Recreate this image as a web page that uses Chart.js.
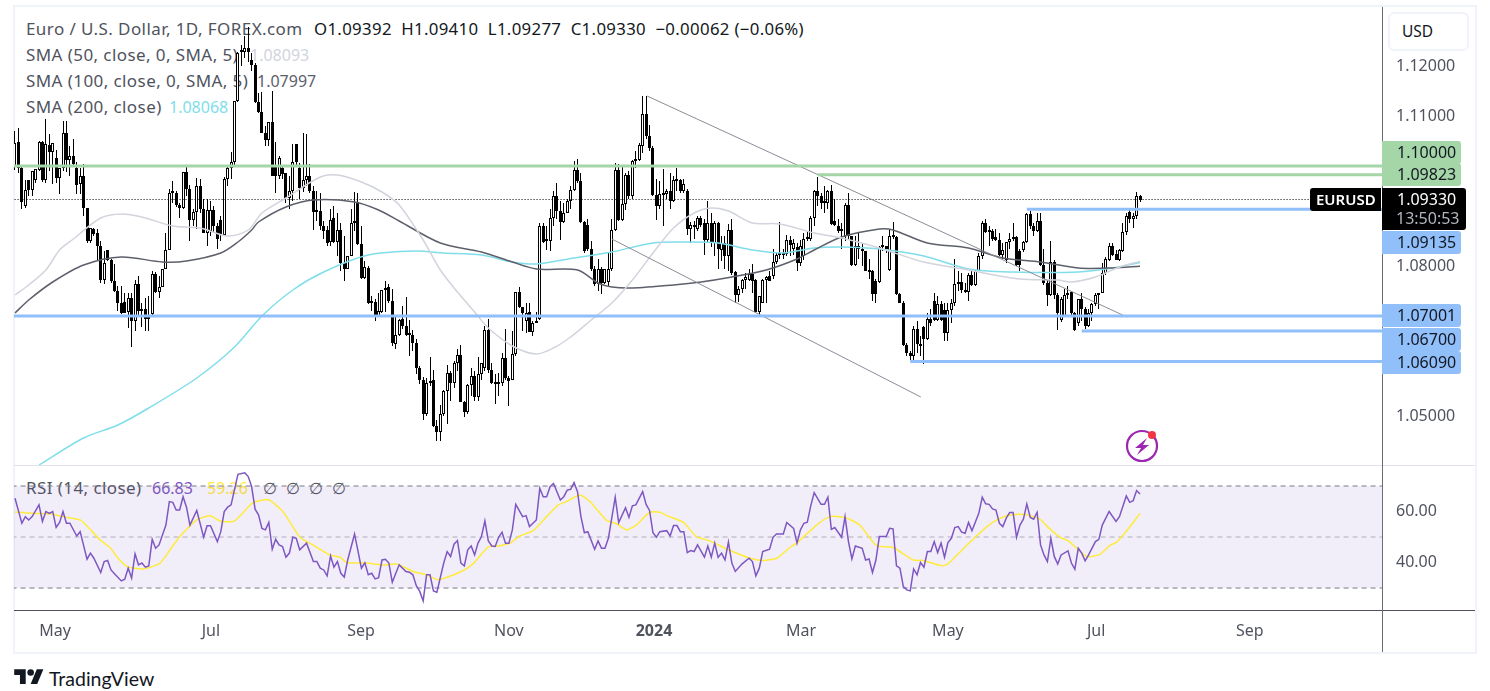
<!DOCTYPE html>
<html>
<head>
<meta charset="utf-8">
<title>EURUSD</title>
<script src="https://cdn.jsdelivr.net/npm/chart.js@4"></script>
<style>
  html, body { margin: 0; padding: 0; background: #fff; }
  body { width: 1490px; height: 691px; position: relative; overflow: hidden; font-family: "Noto Sans", sans-serif; color: #50535e; }
  .frame { position: absolute; left: 13px; top: 5px; width: 1460px; height: 645px; border: 2px solid #f0f3fa; }
  .rule { position: absolute; }
  .legend { position: absolute; left: 26px; font-size: 17px; letter-spacing: 0.42px; line-height: 20px; white-space: nowrap; }
  .legend b { font-weight: 400; font-size: 16px; letter-spacing: 0; position: absolute; top: 0; }
  .ohlc { color: #131722; position: absolute; left: 288px; top: 0; font-size: 16.8px; letter-spacing: 0.33px; }
  canvas { position: absolute; }
  #usd { position: absolute; left: 1388px; top: 12px; width: 77px; height: 35px; border: 2px solid #f0f3fa; border-radius: 6px; font-size: 15.5px; line-height: 35px; color: #131722; text-indent: 12px; background: #fff; }
  #brand { position: absolute; left: 49px; top: 665px; font-family: Lato, sans-serif; font-size: 19.5px; line-height: 28px; color: #131722; }
</style>
</head>
<body>
<div class="frame"></div>
<div class="rule" style="left:14px;top:465px;width:1461px;height:1px;background:#e0e3eb"></div>
<div class="rule" style="left:14px;top:610px;width:1461px;height:1px;background:#50535e"></div>
<div class="rule" style="left:1382px;top:7px;width:1px;height:645px;background:#6a6d78"></div>

<div class="legend" style="top:19px">Euro / U.S. Dollar, 1D, FOREX.com<span class="ohlc">O1.09392&nbsp; H1.09410&nbsp; L1.09277&nbsp; C1.09330&nbsp; −0.00062 (−0.06%)</span></div>
<div class="legend" style="top:45px">SMA (50, close, 0, SMA, 5)<b style="left:224px;color:#d1d4dc">1.08093</b></div>
<div class="legend" style="top:71px">SMA (100, close, 0, SMA, 5)<b style="left:231px;color:#5d606b">1.07997</b></div>
<div class="legend" style="top:97px">SMA (200, close)<b style="left:143px;color:#80deea">1.08068</b></div>
<div class="legend" style="top:478px">RSI (14, close)<b style="left:126px;color:#7e57c2">66.83</b><b style="left:181px;color:#ffeb3b">59.26</b><b style="left:237px">∅</b><b style="left:260px">∅</b><b style="left:283px">∅</b><b style="left:306px">∅</b></div>

<canvas id="price-chart" style="left:14px;top:7px"></canvas>
<canvas id="rsi-chart" style="left:14px;top:466px"></canvas>

<div id="usd">USD</div>

<svg style="position:absolute;left:1124px;top:428px" width="38" height="36" viewBox="0 0 38 36">
  <circle cx="18" cy="18" r="15" fill="none" stroke="#9c27b0" stroke-width="2.2"/>
  <path d="M23 10 L11 20 L17 20 L13 27 L25 17 L19 17 Z" fill="#9c27b0"/>
  <circle cx="28" cy="7" r="4" fill="#f23645"/>
</svg>

<svg style="position:absolute;left:14px;top:666px" width="30" height="23" viewBox="0 0 36 28">
  <path d="M14 22H7V11H0V4h14v18zM28 22h-8l7.5-18h8L28 22z" fill="#131722"/>
  <circle cx="20" cy="8" r="4" fill="#131722"/>
</svg>
<div id="brand">TradingView</div>

<script>
// Candles, one per trading day
const opens = [1.1000,1.1047,1.0997,1.0920,1.0973,1.0953,1.0973,1.0993,1.1047,1.0971,
1.1042,1.1028,1.1017,1.0977,1.0997,1.1065,1.1013,1.1019,1.0997,1.0963,
1.0980,1.0917,1.0850,1.0875,1.0865,1.0840,1.0773,1.0832,1.0813,1.0770,
1.0751,1.0726,1.0728,1.0708,1.0736,1.0690,1.0764,1.0710,1.0715,1.0698,
1.0704,1.0784,1.0748,1.0758,1.0794,1.0832,1.0945,1.0945,1.0922,1.0917,
1.0987,1.0955,1.0893,1.0907,1.0960,1.0915,1.0866,1.0870,1.0913,1.0880,
1.0893,1.0862,1.0975,1.0997,1.1007,1.1130,1.1227,1.1227,1.1237,1.1211,
1.1201,1.1128,1.1108,1.1065,1.1053,1.1087,1.1000,1.0979,1.0997,1.0985,
1.0937,1.0950,1.1043,1.0997,1.0957,1.0973,1.0980,1.0949,1.0907,1.0910,
1.0880,1.0873,1.0847,1.0897,1.0847,1.0873,1.0806,1.0795,1.0820,1.0885,
1.0927,1.0843,1.0776,1.0796,1.0725,1.0728,1.0700,1.0708,1.0752,1.0757,
1.0730,1.0643,1.0662,1.0695,1.0680,1.0662,1.0662,1.0647,1.0595,1.0572,
1.0504,1.0567,1.0572,1.0479,1.0469,1.0505,1.0551,1.0587,1.0567,1.0607,
1.0621,1.0529,1.0509,1.0562,1.0580,1.0537,1.0583,1.0595,1.0672,1.0592,
1.0567,1.0563,1.0567,1.0615,1.0575,1.0572,1.0623,1.0747,1.0717,1.0690,
1.0708,1.0669,1.0687,1.0695,1.0879,1.0850,1.0850,1.0897,1.0939,1.0910,
1.0887,1.0905,1.0929,1.0953,1.0992,1.0969,1.0887,1.0881,1.0835,1.0795,
1.0763,1.0794,1.0765,1.0767,1.0795,1.0873,1.0992,1.0893,1.0923,1.0982,
1.0939,1.1010,1.1012,1.1039,1.1104,1.1059,1.1037,1.0941,1.0920,1.0943,
1.0943,1.0949,1.0931,1.0972,1.0972,1.0949,1.0950,1.0875,1.0881,1.0875,
1.0897,1.0885,1.0852,1.0885,1.0845,1.0885,1.0832,1.0845,1.0819,1.0872,
1.0787,1.0742,1.0755,1.0772,1.0772,1.0783,1.0772,1.0709,1.0727,1.0773,
1.0779,1.0779,1.0807,1.0821,1.0824,1.0824,1.0852,1.0835,1.0837,1.0805,
1.0819,1.0855,1.0855,1.0897,1.0949,1.0939,1.0925,1.0925,1.0949,1.0891,
1.0880,1.0870,1.0859,1.0922,1.0859,1.0801,1.0839,1.0835,1.0829,1.0791,
1.0791,1.0770,1.0769,1.0837,1.0840,1.0792,1.0860,1.0857,1.0744,1.0727,
1.0642,1.0625,1.0619,1.0674,1.0643,1.0678,1.0655,1.0695,1.0730,1.0692,
1.0723,1.0712,1.0665,1.0712,1.0725,1.0763,1.0769,1.0752,1.0749,1.0782,
1.0762,1.0791,1.0819,1.0885,1.0867,1.0869,1.0857,1.0853,1.0822,1.0813,
1.0847,1.0855,1.0857,1.0829,1.0832,1.0847,1.0904,1.0879,1.0869,1.0889,
1.0802,1.0765,1.0741,1.0809,1.0741,1.0692,1.0700,1.0741,1.0747,1.0705,
1.0685,1.0734,1.0715,1.0680,1.0705,1.0723,1.0742,1.0745,1.0785,1.0812,
1.0840,1.0824,1.0813,1.0830,1.0867,1.0907,1.0894,1.0899,1.09392];
const highs = [1.1070,1.1077,1.1000,1.0973,1.0973,1.0990,1.0995,1.1050,1.1050,1.1093,
1.1063,1.1045,1.1033,1.0997,1.1090,1.1090,1.1040,1.1055,1.1007,1.0997,
1.1003,1.0917,1.0877,1.0877,1.0875,1.0850,1.0830,1.0833,1.0815,1.0803,
1.0760,1.0760,1.0745,1.0746,1.0746,1.0772,1.0780,1.0725,1.0736,1.0740,
1.0790,1.0788,1.0780,1.0795,1.0865,1.0955,1.0970,1.0950,1.0925,1.0987,
1.1000,1.0962,1.0915,1.0977,1.0975,1.0935,1.0935,1.0930,1.0920,1.0885,
1.0900,1.0978,1.1000,1.1027,1.1130,1.1228,1.1242,1.1260,1.1277,1.1225,
1.1205,1.1145,1.1147,1.1080,1.1087,1.1150,1.1047,1.1020,1.1000,1.0985,
1.0980,1.1043,1.1043,1.1005,1.1065,1.1063,1.1003,1.0960,1.0950,1.0945,
1.0890,1.0880,1.0915,1.0920,1.0905,1.0885,1.0860,1.0820,1.0915,1.0947,
1.0945,1.0880,1.0810,1.0800,1.0740,1.0735,1.0745,1.0752,1.0770,1.0763,
1.0755,1.0700,1.0695,1.0720,1.0738,1.0692,1.0673,1.0655,1.0600,1.0578,
1.0575,1.0617,1.0592,1.0493,1.0522,1.0552,1.0602,1.0590,1.0610,1.0635,
1.0642,1.0530,1.0565,1.0595,1.0590,1.0618,1.0606,1.0680,1.0695,1.0607,
1.0585,1.0587,1.0627,1.0675,1.0580,1.0670,1.0748,1.0757,1.0717,1.0725,
1.0725,1.0690,1.0707,1.0885,1.0885,1.0880,1.0915,1.0950,1.0965,1.0930,
1.0925,1.0935,1.0960,1.1010,1.1015,1.0985,1.0890,1.0895,1.0850,1.0800,
1.0815,1.0798,1.0795,1.0825,1.0895,1.1005,1.1003,1.0999,1.0985,1.0990,
1.1012,1.1030,1.1045,1.1140,1.1140,1.1082,1.1040,1.0975,1.0970,1.0995,
1.0955,1.0985,1.0980,1.0997,1.0975,1.0975,1.0955,1.0888,1.0890,1.0900,
1.0900,1.0895,1.0931,1.0905,1.0890,1.0888,1.0860,1.0860,1.0883,1.0895,
1.0790,1.0760,1.0775,1.0785,1.0795,1.0803,1.0775,1.0740,1.0775,1.0780,
1.0790,1.0835,1.0825,1.0888,1.0835,1.0862,1.0860,1.0855,1.0845,1.0853,
1.0865,1.0870,1.0900,1.0952,1.0978,1.0945,1.0960,1.0952,1.0962,1.0935,
1.0895,1.0885,1.0925,1.0945,1.0860,1.0860,1.0865,1.0845,1.0830,1.0815,
1.0792,1.0775,1.0840,1.0860,1.0840,1.0875,1.0887,1.0860,1.0745,1.0730,
1.0645,1.0630,1.0680,1.0690,1.0660,1.0680,1.0705,1.0715,1.0745,1.0740,
1.0730,1.0725,1.0725,1.0735,1.0815,1.0790,1.0785,1.0765,1.0785,1.0790,
1.0792,1.0825,1.0890,1.0895,1.0880,1.0875,1.0875,1.0865,1.0845,1.0848,
1.0865,1.0885,1.0860,1.0835,1.0850,1.0905,1.0910,1.0885,1.0905,1.0905,
1.0835,1.0770,1.0850,1.0812,1.0745,1.0737,1.0755,1.0760,1.0750,1.0708,
1.0735,1.0745,1.0718,1.0715,1.0725,1.0745,1.0746,1.0805,1.0818,1.0845,
1.0845,1.0832,1.0835,1.0885,1.0905,1.0915,1.0905,1.0947,1.09410];
const lows = [1.0993,1.0985,1.0915,1.0917,1.0940,1.0940,1.0965,1.0990,1.0967,1.0965,
1.0990,1.0963,1.0965,1.0943,1.0990,1.0988,1.0980,1.1000,1.0943,1.0943,
1.0900,1.0845,1.0845,1.0860,1.0810,1.0766,1.0763,1.0810,1.0765,1.0747,
1.0710,1.0703,1.0706,1.0676,1.0638,1.0671,1.0700,1.0678,1.0670,1.0671,
1.0700,1.0745,1.0736,1.0758,1.0795,1.0832,1.0925,1.0918,1.0897,1.0915,
1.0940,1.0850,1.0880,1.0875,1.0905,1.0868,1.0840,1.0860,1.0865,1.0835,
1.0850,1.0860,1.0960,1.0975,1.1000,1.1128,1.1200,1.1215,1.1207,1.1190,
1.1125,1.1105,1.1065,1.1040,1.1040,1.0980,1.0945,1.0975,1.0975,1.0925,
1.0915,1.0930,1.1000,1.0935,1.0947,1.0960,1.0945,1.0873,1.0890,1.0873,
1.0855,1.0840,1.0840,1.0846,1.0820,1.0790,1.0770,1.0795,1.0820,1.0870,
1.0842,1.0775,1.0775,1.0723,1.0710,1.0690,1.0700,1.0705,1.0708,1.0725,
1.0640,1.0635,1.0660,1.0675,1.0660,1.0620,1.0630,1.0585,1.0565,1.0492,
1.0500,1.0560,1.0478,1.0451,1.0450,1.0500,1.0485,1.0530,1.0556,1.0590,
1.0529,1.0498,1.0505,1.0540,1.0530,1.0530,1.0572,1.0590,1.0587,1.0565,
1.0525,1.0540,1.0560,1.0572,1.0520,1.0572,1.0620,1.0716,1.0670,1.0665,
1.0668,1.0660,1.0687,1.0693,1.0845,1.0832,1.0830,1.0880,1.0895,1.0853,
1.0885,1.0905,1.0915,1.0950,1.0965,1.0885,1.0825,1.0830,1.0790,1.0760,
1.0750,1.0743,1.0763,1.0760,1.0790,1.0870,1.0890,1.0890,1.0912,1.0935,
1.0935,1.0997,1.1010,1.1025,1.1055,1.1030,1.0940,1.0892,1.0915,1.0880,
1.0935,1.0915,1.0928,1.0950,1.0945,1.0945,1.0862,1.0845,1.0855,1.0870,
1.0878,1.0822,1.0845,1.0838,1.0820,1.0795,1.0810,1.0795,1.0790,1.0782,
1.0725,1.0728,1.0745,1.0755,1.0770,1.0745,1.0705,1.0700,1.0727,1.0725,
1.0770,1.0775,1.0803,1.0815,1.0815,1.0820,1.0820,1.0822,1.0790,1.0800,
1.0812,1.0850,1.0850,1.0880,1.0920,1.0915,1.0905,1.0915,1.0882,1.0880,
1.0865,1.0835,1.0850,1.0855,1.0800,1.0800,1.0815,1.0800,1.0790,1.0775,
1.0730,1.0726,1.0765,1.0830,1.0825,1.0790,1.0855,1.0742,1.0725,1.0640,
1.0620,1.0612,1.0605,1.0625,1.0620,1.0603,1.0652,1.0680,1.0690,1.0690,
1.0690,1.0650,1.0650,1.0685,1.0720,1.0750,1.0745,1.0745,1.0730,1.0760,
1.0760,1.0790,1.0815,1.0865,1.0840,1.0850,1.0850,1.0820,1.0815,1.0805,
1.0835,1.0850,1.0800,1.0790,1.0828,1.0845,1.0875,1.0860,1.0868,1.0800,
1.0762,1.0720,1.0740,1.0735,1.0672,1.0688,1.0700,1.0735,1.0700,1.0670,
1.0680,1.0690,1.0675,1.0678,1.0690,1.0720,1.0715,1.0745,1.0782,1.0810,
1.0820,1.0812,1.0810,1.0828,1.0862,1.0885,1.0877,1.0895,1.09277];
const closes = [1.1045,1.0997,1.0927,1.0953,1.0953,1.0990,1.0995,1.1047,1.0971,1.1043,
1.1028,1.1045,1.0977,1.0997,1.1065,1.1013,1.1019,1.1003,1.0962,1.0980,
1.0917,1.0850,1.0877,1.0863,1.0840,1.0773,1.0806,1.0813,1.0770,1.0750,
1.0726,1.0706,1.0706,1.0736,1.0690,1.0764,1.0710,1.0715,1.0694,1.0694,
1.0784,1.0748,1.0758,1.0794,1.0832,1.0945,1.0945,1.0922,1.0917,1.0987,
1.0955,1.0893,1.0907,1.0960,1.0915,1.0866,1.0913,1.0913,1.0880,1.0855,
1.0862,1.0975,1.0997,1.1007,1.1130,1.1226,1.1227,1.1237,1.1228,1.1201,
1.1128,1.1108,1.1065,1.1053,1.1087,1.0980,1.0979,1.1017,1.0983,1.0937,
1.0950,1.1007,1.1007,1.0957,1.0973,1.0980,1.0949,1.0907,1.0910,1.0880,
1.0870,1.0845,1.0893,1.0847,1.0873,1.0806,1.0795,1.0820,1.0885,1.0890,
1.0844,1.0776,1.0797,1.0725,1.0728,1.0699,1.0710,1.0752,1.0756,1.0730,
1.0645,1.0661,1.0693,1.0679,1.0662,1.0664,1.0647,1.0595,1.0572,1.0504,
1.0567,1.0570,1.0479,1.0469,1.0505,1.0551,1.0587,1.0567,1.0607,1.0621,
1.0529,1.0509,1.0562,1.0580,1.0537,1.0583,1.0605,1.0672,1.0592,1.0567,
1.0563,1.0567,1.0615,1.0575,1.0571,1.0623,1.0747,1.0717,1.0705,1.0705,
1.0669,1.0687,1.0690,1.0879,1.0847,1.0852,1.0897,1.0939,1.0910,1.0887,
1.0905,1.0929,1.0952,1.0992,1.0969,1.0887,1.0829,1.0835,1.0795,1.0763,
1.0795,1.0765,1.0795,1.0795,1.0873,1.0992,1.0892,1.0923,1.0982,1.0939,
1.1010,1.1012,1.1042,1.1104,1.1059,1.1037,1.0941,1.0920,1.0943,1.0941,
1.0949,1.0931,1.0972,1.0970,1.0949,1.0963,1.0875,1.0881,1.0878,1.0897,
1.0881,1.0852,1.0885,1.0845,1.0885,1.0835,1.0845,1.0819,1.0872,1.0785,
1.0742,1.0755,1.0772,1.0777,1.0783,1.0770,1.0709,1.0739,1.0773,1.0777,
1.0771,1.0807,1.0821,1.0824,1.0822,1.0852,1.0842,1.0845,1.0805,1.0839,
1.0855,1.0857,1.0897,1.0949,1.0939,1.0925,1.0930,1.0949,1.0884,1.0882,
1.0870,1.0875,1.0922,1.0859,1.0801,1.0839,1.0835,1.0830,1.0791,1.0789,
1.0744,1.0744,1.0837,1.0839,1.0835,1.0860,1.0858,1.0744,1.0727,1.0642,
1.0625,1.0619,1.0674,1.0643,1.0640,1.0655,1.0695,1.0685,1.0692,1.0723,
1.0693,1.0665,1.0712,1.0725,1.0763,1.0769,1.0752,1.0748,1.0782,1.0762,
1.0791,1.0819,1.0885,1.0867,1.0870,1.0855,1.0853,1.0822,1.0832,1.0847,
1.0855,1.0857,1.0802,1.0802,1.0847,1.0904,1.0879,1.0869,1.0889,1.0802,
1.0765,1.0741,1.0809,1.0741,1.0705,1.0735,1.0741,1.0745,1.0705,1.0672,
1.0734,1.0715,1.0680,1.0705,1.0723,1.0742,1.0745,1.0785,1.0815,1.0840,
1.0822,1.0813,1.0832,1.0867,1.0900,1.0894,1.0899,1.0939,1.09330];

// Moving averages, read at the bends of each line
const sma50Days = [0,4,9,13,17,25,31,37,46,54,62,68,72,79,89,94,101,107,112,119,124,129,134,138,145,152,157,162,168,174,180,186,192,198,203,208,215,223,233,241,252,265,278,293,304,308,315,322,328];
const sma50 = [1.0742,1.0762,1.0792,1.0832,1.0854,1.0896,1.0904,1.0898,1.0880,1.0876,1.0860,1.0872,1.0906,1.0936,1.0978,1.0982,1.0968,1.0948,1.0922,1.0852,1.0792,1.0748,1.0708,1.0676,1.0640,1.0624,1.0636,1.0658,1.0692,1.0726,1.0772,1.0826,1.0876,1.0906,1.0916,1.0910,1.0886,1.0884,1.0866,1.0856,1.0836,1.0808,1.0792,1.0774,1.0772,1.0768,1.0778,1.0798,1.08093];
const sma100Days = [0,4,11,20,31,43,50,60,65,69,71,79,87,99,106,112,124,136,145,152,164,170,174,180,192,200,209,219,228,233,241,252,256,266,278,288,299,310,320,328];
const sma100 = [1.0706,1.0732,1.0768,1.0802,1.0818,1.0808,1.0810,1.0826,1.0848,1.0872,1.0888,1.0918,1.0932,1.0928,1.0912,1.0890,1.0846,1.0828,1.0808,1.0794,1.0792,1.0766,1.0758,1.0756,1.0762,1.0768,1.0778,1.0792,1.0814,1.0832,1.0858,1.0874,1.0872,1.0846,1.0836,1.0816,1.0808,1.0796,1.0796,1.07997];
const sma200Days = [7,20,30,39,53,64,72,81,90,103,117,125,136,145,152,163,174,186,195,205,215,224,233,241,252,265,278,291,310,320,328];
const sma200 = [1.0402,1.0456,1.0482,1.0516,1.0576,1.0638,1.0700,1.0752,1.0788,1.0822,1.0830,1.0826,1.0822,1.0808,1.0804,1.0816,1.0828,1.0846,1.0848,1.0846,1.0832,1.0826,1.0836,1.0838,1.0834,1.0820,1.0794,1.0788,1.0788,1.0796,1.08068];

// Horizontal levels and trend lines
const levelPrices = [1.10000,1.09823,1.09135,1.07001,1.06700,1.06090];
const levelFrom = [-1,234,295,-1,311,261];
const levelColors = ['#a5d6a7','#a5d6a7','#90bff9','#90bff9','#90bff9','#90bff9'];
const trendDays = [[184.3,324.2],[174,264.1]];
const trendPrices = [[1.1140,1.0698],[1.0854,1.0538]];
const lastPrice = 1.09330;

// RSI and its average
const rsiDays = [0,2,3,4,5,7,8,9,10,11,12,13,14,15,16,18,19,21,22,23,25,26,27,28,29,31,32,33,34,35,36,37,38,39,40,41,42,44,45,46,47,48,49,50,51,53,55,56,57,59,60,61,62,63,65,67,68,69,70,71,72,73,74,75,76,77,78,79,80,81,82,83,85,87,88,89,90,91,92,93,94,95,96,97,99,101,102,103,104,105,106,107,108,109,110,112,114,115,116,117,118,119,120,121,122,123,125,126,127,128,129,130,131,132,133,134,135,136,137,138,139,140,141,
142,143,144,145,146,148,149,150,152,153,154,155,156,157,159,160,161,162,163,164,165,166,167,169,170,171,172,173,175,176,178,179,180,181,183,184,185,186,187,188,190,191,192,193,194,195,196,197,198,199,201,202,203,204,205,206,207,208,209,210,212,214,215,216,217,218,220,221,222,224,225,227,228,229,230,231,232,233,235,236,237,238,239,241,242,243,244,245,247,248,249,250,251,252,254,255,256,257,258,259,260,261,262,263,264,265,266,267,268,269,270,271,272,273,274,275,276,277,278,279,281,282,283,284,
285,286,287,288,289,290,291,292,293,294,295,296,297,298,299,300,301,302,303,304,305,307,308,309,310,311,312,313,315,316,317,319,321,322,324,325,326,327,328];
const rsiValues = [65.2,55.4,58,56.7,58,62.6,56.1,60,59.3,60,53.8,55.7,60,55.4,55.4,50.4,52.1,41.3,43.7,41.7,36.1,40.4,40.8,37.1,35.6,32.8,33.5,37.8,33.9,43.4,39.1,39.8,38.2,38.7,49.1,45.6,46.9,54.7,63.9,63.6,60.6,60.6,65.8,61.7,54.7,60.4,49.9,54.4,54.4,48.2,52.1,60,61.7,62.6,74.6,75.2,73.7,69.7,60.9,58.7,53.4,52.8,55.7,45.2,49.1,46.9,46.3,42.1,43.7,49.9,49.5,45,47.6,40.4,40.4,37.8,37.1,34.8,42.6,38.2,40.4,35.8,34.3,41,51.2,37.8,39.9,35.2,35.8,33.6,34.1,41,41.3,39.8,32.3,39.1,36.5,36.2,35.2,30.9,28.7,25,35.2,35.2,28.9,28.4,39.8,44.3,42.4,47.2,48.6,39.8,38.7,45,46.5,43,47.6,50.2,56.3,48.5,46.5,46.3,49.9,
51.9,47.6,47.6,52.8,62.8,58,58.4,54.1,56.7,69.1,65.8,65.8,69.7,71,64.5,65.8,68.4,68.7,71.3,67.8,58,51.7,52.1,45.2,48.5,45.6,45.6,49.5,65.6,55.7,61.5,57.7,62.2,62.6,67.8,62.8,60.4,51.7,49.9,52.1,52.5,50.4,54.5,54.5,52.1,52.1,43.9,44.7,44.3,46.9,42.1,46.5,42.1,47.6,42,43.7,41,48,39.8,36.5,39.5,41.7,40.4,34.8,37.8,44.3,45.2,49.9,51.2,51.2,55.7,53.4,47.6,52.8,55.4,55.8,62.2,67.4,62.8,62.8,65.6,53,53.7,49.9,58,48.2,41.4,46.5,45.6,41,41.4,36.1,41,50.2,50.2,53.4,53.2,38.7,37.8,30.6,29.3,28.9,37.5,35.2,40,38.2,44.3,44.3,48.2,43.9,47.6,42.1,47.8,49.5,53.7,54.1,51.9,51.5,55.7,52.5,59.3,65.6,63,62.8,
61,60.6,55.4,54.1,57.4,59.6,59.6,49.9,54.7,57,63,57.7,57,59.7,46.9,43,40.4,49.5,42.4,39.4,43,44.6,39.8,37.4,45.6,43.7,40.7,43,48.2,49.1,54.7,60,56.1,58,66.1,63.6,64.2,68.2,66.83];
const rsiMaDays = [0,2.4,5.3,10.2,14,19,21.4,24.8,27.7,29.6,32.6,37.4,42.3,45.2,48.1,53,56.9,59.8,63.7,66.6,69.2,73.9,78.2,83.1,88,91.8,94.8,96.7,102.5,107.4,111.3,116.1,120,123.4,129.7,133.6,138,141.4,144.3,147.2,151.1,155,158.4,160.8,164.7,167.6,172.5,175.4,178.3,181.2,185.1,188,190,194.8,198.7,202.6,208.5,214.3,218.2,222.1,226,227.9,233.7,237.6,242,246.3,251.2,256,261.9,264.8,270.2,272.1,277.5,283.3,286.7,290.6,295,298.8,301.3,304.7,307.1,312.4,316.3,319.2,321.2,325,328];
const rsiMa = [59.7,59.6,59.3,59.1,58,56.7,53.7,48.9,45.9,42.4,38.5,37.5,39.8,45,50.2,56.7,58.3,56.3,56.1,59.7,63.3,64.6,59.8,49.9,46,43,42.1,40,39.8,39,39.4,36.5,35.2,33.3,36.2,39.6,46.1,46.6,47.6,50.4,52.5,58,62.6,63.9,66.5,63.9,56.5,55.2,52.8,54.8,59.7,59.7,58.4,55.8,50.2,48.5,44.7,41.7,40.8,41.7,46,47.6,54.7,58,57.7,54.7,46.6,45.9,41,40.8,38.7,39.6,46.8,54,57,58.7,58.7,57,53.7,49.9,48.5,42.4,43.2,46.7,48,53.9,59.26];
const rsiBands = [70,50,30];

// Axes
const priceTicks = [1.12,1.11,1.08,1.05];
const rsiTicks = [60,40];
const timeTicks = [11.7,57.1,100.9,144,186.3,229.2,272,315.2,360];
const timeLabels = ['May','Jul','Sep','Nov','2024','Mar','May','Jul','Sep'];

// Price tags in the right axis; tops are page layout, not data
const tagTops = [134,156,224,297,321,344];

const X_MIN = -0.29, X_MAX = 398.55;
const AXIS_FONT = { family: '"Noto Sans", sans-serif', size: 16 };
const pts = (xs, ys) => xs.map((x, i) => ({ x, y: ys[i] }));
const lineSet = (data, color, width, extra) => Object.assign({
  type: 'line', data, borderColor: color, borderWidth: width, pointRadius: 0, fill: false, tension: 0
}, extra);

// The axes must not reserve room for half a tick label, the panels fill the canvas
const noScalePadding = s => {
  s.paddingTop = 0;
  s.paddingBottom = 0;
  s.paddingLeft = 0;
  s.paddingRight = 0;
};

// Snap candle bars to whole pixels so they stay crisp
const snapBars = {
  id: 'snapBars',
  beforeDatasetsDraw(chart) {
    chart.getSortedVisibleDatasetMetas().forEach(meta => {
      if (meta.type !== 'bar') return;
      meta.data.forEach(el => {
        el.x = Math.floor(el.x) + 0.5;
        el.y = Math.round(el.y);
        el.base = Math.round(el.base);
      });
    });
  }
};

function roundRect(ctx, x, y, w, h, r) {
  ctx.beginPath();
  ctx.roundRect(x, y, w, h, r);
  ctx.fill();
}

const priceTags = {
  id: 'priceTags',
  afterDraw(chart) {
    const { ctx } = chart;
    const left = chart.scales.y.left;
    ctx.save();
    ctx.font = '16px "Noto Sans", sans-serif';
    ctx.textBaseline = 'middle';
    levelPrices.forEach((p, i) => {
      const y = tagTops[i];
      ctx.fillStyle = levelColors[i];
      roundRect(ctx, left, y, 79, 23, [0, 3, 3, 0]);
      ctx.fillStyle = '#131722';
      ctx.fillText(p.toFixed(5), left + 15, y + 12);
    });

    // last price box and symbol tag
    const yLast = chart.scales.y.getPixelForValue(lastPrice);
    ctx.fillStyle = '#000';
    roundRect(ctx, left, yLast - 11.5, 84, 42, [0, 3, 3, 0]);
    roundRect(ctx, left - 72, yLast - 11.5, 71, 23, [3, 0, 0, 3]);
    ctx.fillStyle = '#fff';
    ctx.fillText(lastPrice.toFixed(5), left + 15, yLast + 1);
    ctx.fillStyle = '#b2b5be';
    ctx.fillText('13:50:53', left + 14, yLast + 20);
    ctx.fillStyle = '#fff';
    ctx.font = '600 15px "Noto Sans", sans-serif';
    ctx.fillText('EURUSD', left - 66, yLast + 1);
    ctx.restore();
  }
};

const wicks = highs.map((h, i) => ({ x: i, y: [lows[i], h] }));
const bodies = opens.map((o, i) => ({ x: i, y: [o, closes[i]] }));

const levelSets = levelPrices.map((p, i) =>
  lineSet(pts([levelFrom[i], X_MAX + 1], [p, p]), levelColors[i], 3, { order: 1 }));
const trendSets = trendDays.map((days, i) =>
  lineSet(pts(days, trendPrices[i]), '#8a8d96', 1, { order: 2 }));

const priceCanvas = document.getElementById('price-chart');
priceCanvas.style.width = '1461px';
priceCanvas.style.height = '458px';
priceCanvas.width = 1461;
priceCanvas.height = 458;

new Chart(priceCanvas, {
  type: 'bar',
  data: {
    datasets: [
      { data: wicks, backgroundColor: '#000', borderWidth: 0, barThickness: 1, grouped: false, inflateAmount: 0, order: 6 },
      {
        data: bodies,
        backgroundColor: ctx => (closes[ctx.dataIndex] >= opens[ctx.dataIndex] ? '#fff' : '#000'),
        borderColor: '#000', borderWidth: 1, borderSkipped: false, barThickness: 3, minBarLength: 2,
        grouped: false, inflateAmount: 0, order: 5
      },
      lineSet(pts([-1, X_MAX + 1], [lastPrice, lastPrice]), '#000', 1, { borderDash: [1, 2], order: 4 }),
      lineSet(pts(sma50Days, sma50), '#d1d4dc', 1.5, { tension: 0.3, order: 3 }),
      lineSet(pts(sma100Days, sma100), '#5d606b', 1.5, { tension: 0.3, order: 3 }),
      lineSet(pts(sma200Days, sma200), '#80deea', 1.5, { tension: 0.3, order: 3 }),
      ...trendSets,
      ...levelSets
    ]
  },
  options: {
    responsive: false,
    animation: false,
    devicePixelRatio: 1,
    layout: { padding: 0 },
    plugins: { legend: { display: false }, tooltip: { enabled: false } },
    scales: {
      x: { type: 'linear', min: X_MIN, max: X_MAX, offset: false, display: false, grid: { display: false } },
      y: {
        position: 'right', min: 1.0402, max: 1.1318,
        grid: { display: false, drawTicks: false }, border: { display: false },
        afterFit: s => { s.width = 93; noScalePadding(s); },
        afterBuildTicks: s => { s.ticks = priceTicks.map(value => ({ value })); },
        ticks: { color: '#50535e', font: AXIS_FONT, padding: 14, callback: v => v.toFixed(5) }
      }
    }
  },
  plugins: [snapBars, priceTags]
});

const rsiCanvas = document.getElementById('rsi-chart');
rsiCanvas.style.width = '1461px';
rsiCanvas.style.height = '186px';
rsiCanvas.width = 1461;
rsiCanvas.height = 186;

new Chart(rsiCanvas, {
  type: 'line',
  data: {
    datasets: [
      lineSet(pts([-1, X_MAX + 1], [rsiBands[0], rsiBands[0]]), '#787b86', 1, { borderDash: [5, 4], fill: '+2', backgroundColor: 'rgba(126,87,194,0.1)', order: 4 }),
      lineSet(pts([-1, X_MAX + 1], [rsiBands[1], rsiBands[1]]), 'rgba(120,123,134,0.55)', 1, { borderDash: [5, 4], order: 4 }),
      lineSet(pts([-1, X_MAX + 1], [rsiBands[2], rsiBands[2]]), '#787b86', 1, { borderDash: [5, 4], order: 4 }),
      lineSet(pts(rsiMaDays, rsiMa), '#ffeb3b', 1.5, { tension: 0.2, order: 3 }),
      lineSet(pts(rsiDays, rsiValues), '#7e57c2', 1.5, { order: 2 })
    ]
  },
  options: {
    responsive: false,
    animation: false,
    devicePixelRatio: 1,
    layout: { padding: 0 },
    plugins: { legend: { display: false }, tooltip: { enabled: false } },
    scales: {
      x: {
        type: 'linear', min: X_MIN, max: X_MAX,
        grid: { display: false, drawTicks: false }, border: { display: false },
        afterFit: s => { s.height = 42; noScalePadding(s); },
        afterBuildTicks: s => { s.ticks = timeTicks.map(value => ({ value })); },
        ticks: {
          color: '#50535e', padding: 12, maxRotation: 0, autoSkip: false,
          font: c => (timeLabels[timeTicks.indexOf(c.tick && c.tick.value)] === '2024'
            ? { family: AXIS_FONT.family, size: 16, weight: 'bold' } : AXIS_FONT),
          callback: v => timeLabels[timeTicks.indexOf(v)]
        }
      },
      y: {
        position: 'right', min: 21.4, max: 77.84,
        grid: { display: false, drawTicks: false }, border: { display: false },
        afterFit: s => { s.width = 93; noScalePadding(s); },
        afterBuildTicks: s => { s.ticks = rsiTicks.map(value => ({ value })); },
        ticks: { color: '#50535e', font: AXIS_FONT, padding: 14, callback: v => v.toFixed(2) }
      }
    }
  }
});
</script>
</body>
</html>
